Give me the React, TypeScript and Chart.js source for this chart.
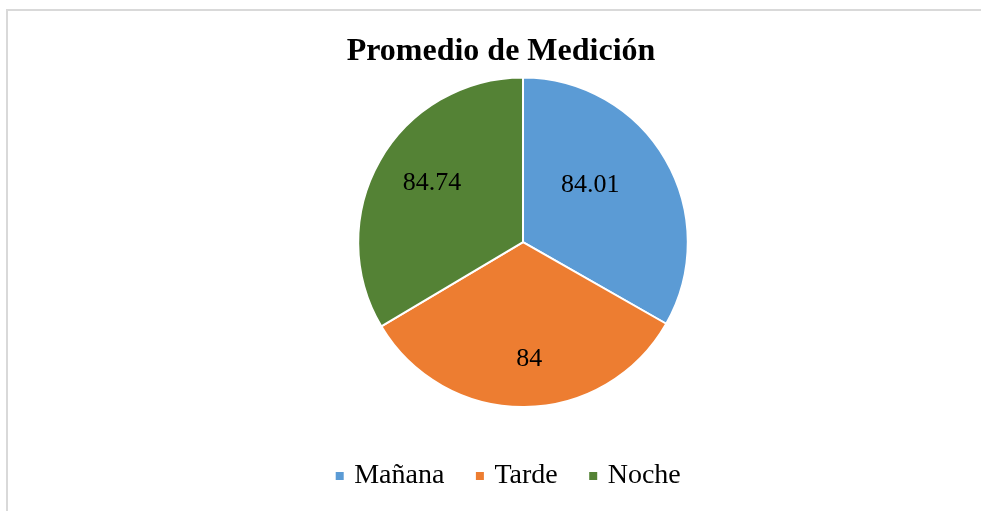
import React, { useEffect, useRef } from "react";
import { Chart, registerables } from "chart.js";

Chart.register(...registerables);

const categories = ["Mañana", "Tarde", "Noche"];
const values = [84.01, 84, 84.74];
const valueLabels = ["84.01", "84", "84.74"];
const colors = ["#5B9BD5", "#ED7D31", "#548235"];

const SERIF = "'Times New Roman', 'Liberation Serif', serif";

const plotShift = {
  id: "plotShift",
  afterLayout(chart: any, _args: any, opts: any) {
    const dx = opts.dx || 0;
    chart.chartArea.left += dx;
    chart.chartArea.right += dx;
    const ldx = opts.legendDx || 0;
    if (chart.legend) {
      chart.legend.left += ldx;
      chart.legend.right += ldx;
    }
  },
};

const sliceLabels = {
  id: "sliceLabels",
  afterDatasetsDraw(chart: any, _args: any, opts: any) {
    const ctx = chart.ctx;
    const meta = chart.getDatasetMeta(0);
    ctx.save();
    ctx.font = opts.font;
    ctx.fillStyle = opts.color;
    ctx.textAlign = "center";
    ctx.textBaseline = "middle";
    meta.data.forEach((arc: any, i: number) => {
      const p = arc.getProps(["x", "y", "startAngle", "endAngle", "outerRadius"], true);
      const mid = (p.startAngle + p.endAngle) / 2 + ((opts.angleShift[i] || 0) * Math.PI) / 180;
      const r = p.outerRadius * opts.radiusFactor[i];
      ctx.fillText(opts.labels[i], p.x + Math.cos(mid) * r, p.y + Math.sin(mid) * r);
    });
    ctx.restore();
  },
};

export default function App() {
  const ref = useRef<HTMLCanvasElement>(null);
  useEffect(() => {
    if (!ref.current) return;
    const chart = new Chart(ref.current, {
      type: "pie",
      data: {
        labels: categories,
        datasets: [
          {
            data: values,
            backgroundColor: colors,
            borderColor: "#ffffff",
            borderWidth: 2,
          },
        ],
      },
      plugins: [plotShift, sliceLabels],
      options: {
        animation: false,
        responsive: false,
        layout: { padding: { left: 21, right: 0, top: 0, bottom: 11 } },
        plugins: {
          tooltip: { enabled: false },
          title: {
            display: true,
            text: "Promedio de Medición",
            color: "#000000",
            font: { family: SERIF, size: 32, weight: "bold" },
            padding: { top: 33, bottom: 5 },
          },
          legend: {
            position: "bottom",
            title: { display: true, text: "", padding: { top: 7, bottom: 0 }, font: { size: 10 } },
            labels: {
              color: "#000000",
              font: { family: SERIF, size: 28 },
              usePointStyle: true,
              pointStyle: "rect",
              boxWidth: 1,
              boxHeight: 10,
              padding: 35,
            },
          },
          plotShift: { dx: 22, legendDx: 9 },
          sliceLabels: {
            labels: valueLabels,
            font: `26px ${SERIF}`,
            color: "#000000",
            radiusFactor: [0.534, 0.708, 0.658],
            angleShift: [-10, -2.5, 3.2],
          },
        } as any,
      },
    });
    return () => chart.destroy();
  }, []);

  return (
    <div style={{ position: "fixed", left: 0, top: 0, width: 981, height: 511, overflow: "hidden", background: "#fff" }}>
      <div
        style={{
          position: "absolute",
          left: 6,
          top: 9,
          width: 1100,
          height: 700,
          border: "2px solid #d9d9d9",
        }}
      />
      <canvas ref={ref} width={981} height={511} style={{ position: "absolute", left: 0, top: 0, width: 981, height: 511 }} />
    </div>
  );
}
